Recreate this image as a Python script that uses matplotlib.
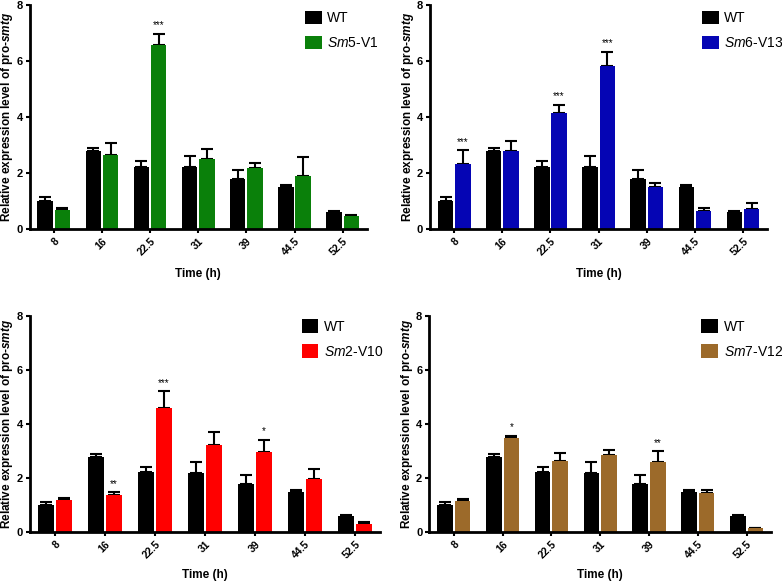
import numpy as np
import matplotlib
matplotlib.use("Agg")
import matplotlib.pyplot as plt

plt.rcParams['font.family'] = ['Liberation Sans', 'DejaVu Sans']
plt.rcParams['mathtext.fontset'] = 'custom'
plt.rcParams['mathtext.rm'] = 'Liberation Sans'
plt.rcParams['mathtext.it'] = 'Liberation Sans:italic'
plt.rcParams['mathtext.bf'] = 'Liberation Sans:italic:bold'

times = ['8', '16', '22.5', '31', '39', '44.5', '52.5']

wt = [1.01, 2.77, 2.21, 2.2, 1.79, 1.49, 0.6]
wt_err = [0.12, 0.12, 0.22, 0.4, 0.31, 0.07, 0.03]

sm5 = [0.69, 2.65, 6.56, 2.49, 2.18, 1.89, 0.45]
sm5_err = [0.07, 0.42, 0.42, 0.38, 0.19, 0.67, 0.06]
sm5_sig = ['', '', '***', '', '', '', '']

sm6 = [2.33, 2.77, 4.13, 5.83, 1.49, 0.63, 0.7]
sm6_err = [0.49, 0.36, 0.31, 0.5, 0.16, 0.11, 0.23]
sm6_sig = ['***', '', '***', '***', '', '', '']

sm2 = [1.21, 1.37, 4.58, 3.22, 2.98, 1.97, 0.3]
sm2_err = [0.05, 0.11, 0.65, 0.48, 0.45, 0.37, 0.07]
sm2_sig = ['', '**', '***', '', '*', '', '']

sm7 = [1.16, 3.5, 2.65, 2.84, 2.61, 1.45, 0.15]
sm7_err = [0.06, 0.07, 0.28, 0.21, 0.39, 0.13, 0.02]
sm7_sig = ['', '*', '', '', '**', '', '']

panels = [
    (sm5, sm5_err, sm5_sig, r'$\it{Sm5}$-V1', '#0a800a', [0.038, 0.606, 0.431, 0.385], (0.80, 1.0), 8),
    (sm6, sm6_err, sm6_sig, r'$\it{Sm6}$-V13', '#0505b4', [0.550, 0.606, 0.431, 0.385], (0.79, 1.0), 8),
    (sm2, sm2_err, sm2_sig, r'$\it{Sm2}$-V10', '#ff0000', [0.038, 0.084, 0.448, 0.372], (0.76, 1.01), 6),
    (sm7, sm7_err, sm7_sig, r'$\it{Sm7}$-V12', '#9c6a2a', [0.549, 0.084, 0.437, 0.372], (0.78, 1.01), 6),
]

fig = plt.figure(figsize=(7.82, 5.81), dpi=100)
x = np.arange(len(times))
w = 0.32

for vals, errs, sig, label, color, rect, lpos, lpad in panels:
    ax = fig.add_axes(rect)
    zeros = np.zeros(len(x))
    ax.bar(x - 0.18, wt, w, color='black', label='WT', zorder=2)
    ax.bar(x + 0.18, vals, w, color=color, label=label, zorder=2)
    ax.errorbar(x - 0.18, wt, yerr=[zeros, wt_err], fmt='none', ecolor='black',
                elinewidth=1.5, capsize=4, capthick=1.5, zorder=1)
    ax.errorbar(x + 0.18, vals, yerr=[zeros, errs], fmt='none', ecolor='black',
                elinewidth=1.5, capsize=4, capthick=1.5, zorder=1)
    for i, s in enumerate(sig):
        if s:
            ax.text(x[i] + 0.18, vals[i] + errs[i] + 0.12, s, ha='center',
                    va='bottom', fontsize=7)
    ax.set_xlim(-0.5, len(x) - 0.5)
    ax.set_ylim(0, 8)
    ax.set_yticks([0, 2, 4, 6, 8])
    ax.set_xticks(x)
    ax.set_xticklabels(times, rotation=45, ha='right', rotation_mode='anchor',
                       fontsize=7.5, fontweight='bold')
    for t in ax.get_yticklabels():
        t.set_fontweight('bold')
        t.set_fontsize(8)
    ax.tick_params(axis='both', width=1.5, length=3, pad=2)
    for side in ['top', 'right']:
        ax.spines[side].set_visible(False)
    for side in ['left', 'bottom']:
        ax.spines[side].set_linewidth(2)
    ax.set_xlabel('Time (h)', fontsize=8.5, fontweight='bold', labelpad=lpad)
    ax.set_ylabel(r'Relative expression level of pro-$\mathbf{smtg}$',
                  fontsize=8.5, fontweight='bold', labelpad=1)
    ax.legend(loc='upper left', bbox_to_anchor=lpos, frameon=False, fontsize=10,
              handlelength=1.2, handleheight=1.1, handletextpad=0.4,
              labelspacing=0.75, borderaxespad=0)

fig.savefig('out.png', dpi=100)
